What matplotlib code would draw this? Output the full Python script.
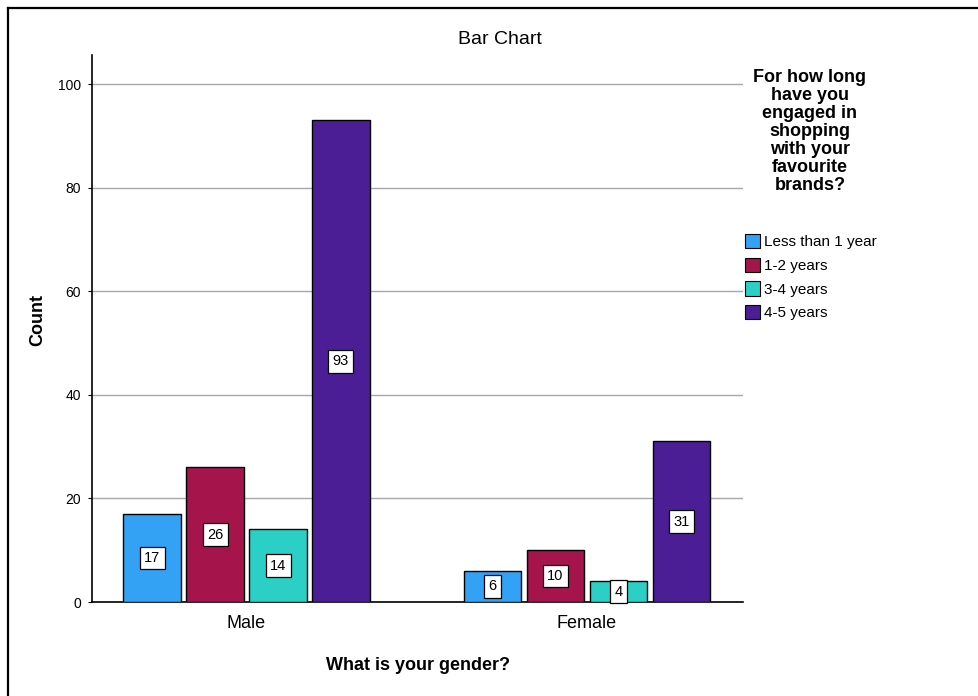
import numpy as np
import matplotlib
matplotlib.use("Agg")
import matplotlib.pyplot as plt
from matplotlib.lines import Line2D
from matplotlib.patches import Patch

# counts per gender and shopping duration
genders = ["Male", "Female"]
durations = ["Less than 1 year", "1-2 years", "3-4 years", "4-5 years"]
male_counts = [17, 26, 14, 93]
female_counts = [6, 10, 4, 31]
y_ticks = [0, 20, 40, 60, 80, 100]

colors = ["#33a2f5", "#a5154b", "#2bcfc6", "#4b1e96"]
sans = ["Liberation Sans", "DejaVu Sans"]

fig = plt.figure(figsize=(9.79, 6.96), dpi=100)
fig.patch.set_facecolor("white")
ax = fig.add_axes([92 / 979, 1 - 602 / 696, 651 / 979, 547 / 696])

x = np.arange(len(genders))
width = 0.17
step = 0.185
series = np.array([male_counts, female_counts]).T

for i, (name, vals) in enumerate(zip(durations, series)):
    pos = x + (i - 1.5) * step
    ax.bar(pos, vals, width=width, color=colors[i], edgecolor="black",
           linewidth=1.0, zorder=3)
    for px, v in zip(pos, vals):
        ax.text(px, v / 2, str(v), ha="center", va="center",
                fontsize=10.5, family=sans, zorder=5,
                bbox=dict(boxstyle="square,pad=0.3", facecolor="white",
                          edgecolor="black", linewidth=0.9))

ax.set_xlim(-0.4537, 1.458)
ax.set_ylim(0, 105.6)
ax.set_yticks(y_ticks)
ax.set_yticklabels([str(t) for t in y_ticks], family=sans, fontsize=10)
ax.set_xticks(x)
ax.set_xticklabels(genders, family=sans, fontsize=13)
ax.tick_params(axis="x", length=0, pad=9)
ax.tick_params(axis="y", length=3, width=0.8, pad=5)
ax.grid(axis="y", color="#a8a8a8", linewidth=1.0, zorder=0)
ax.set_axisbelow(True)
for s in ["top", "right"]:
    ax.spines[s].set_visible(False)
for s in ["left", "bottom"]:
    ax.spines[s].set_color("black")
    ax.spines[s].set_linewidth(1.2)

ax.set_ylabel("Count", fontsize=13, fontweight="bold", family=sans)
ax.yaxis.set_label_coords(-0.071, 0.516)
ax.set_xlabel("What is your gender?", fontsize=13, fontweight="bold", family=sans)
ax.xaxis.set_label_coords(0.5, -0.1)
fig.text(500 / 979, 1 - 39 / 696, "Bar Chart", ha="center", va="center",
         fontsize=14, family=sans)

# legend title and entries
fig.text(810 / 979, 1 - 69 / 696,
         "For how long\nhave you\nengaged in\nshopping\nwith your\nfavourite\nbrands?",
         ha="center", va="top", fontsize=13, fontweight="bold", family=sans,
         linespacing=1.08)
handles = [Patch(facecolor=c, edgecolor="black", linewidth=0.8) for c in colors]
leg = fig.legend(handles, durations, loc="upper left",
                 bbox_to_anchor=(745 / 979, 1 - 234 / 696), frameon=False,
                 prop={"family": sans, "size": 11}, handlelength=1.0,
                 handleheight=1.05, handletextpad=0.25, labelspacing=0.55,
                 borderaxespad=0, borderpad=0)

# outer frame (top and left edges)
fig.add_artist(Line2D([8 / 979, 1], [1 - 8 / 696, 1 - 8 / 696],
                      color="black", linewidth=1.6, transform=fig.transFigure))
fig.add_artist(Line2D([8 / 979, 8 / 979], [0, 1 - 8 / 696],
                      color="black", linewidth=1.6, transform=fig.transFigure))

fig.savefig("out.png", dpi=100, facecolor="white")
